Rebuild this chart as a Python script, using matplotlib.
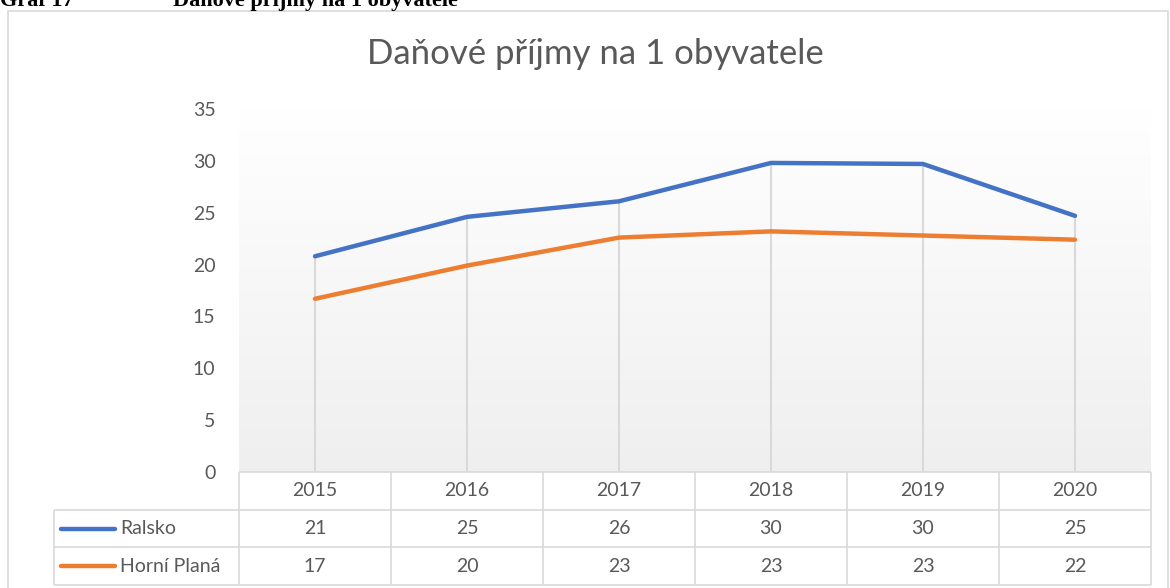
import numpy as np
import matplotlib.pyplot as plt
from matplotlib.colors import LinearSegmentedColormap
from matplotlib.patches import Rectangle

# data
years = ["2015", "2016", "2017", "2018", "2019", "2020"]
ralsko = [20.8, 24.6, 26.1, 29.8, 29.7, 24.7]
horni_plana = [16.7, 19.9, 22.6, 23.2, 22.8, 22.4]
series_names = ["Ralsko", "Horní Planá"]
series_colors = ["#4472C4", "#ED7D31"]

title = "Daňové příjmy na 1 obyvatele"
caption_left = "Graf 17"
caption_right = "Daňové příjmy na 1 obyvatele"

plt.rcParams['font.family'] = ['Lato', 'DejaVu Sans']
TXT = "#595959"
GRID = "#d9d9d9"

W, H = 1170, 588
fig = plt.figure(figsize=(W / 100, H / 100), dpi=100)

def fx(px):
    return px / W

def fy(py):
    return 1 - py / H

# outer chart border
fig.add_artist(Rectangle((fx(8), fy(600)), fx(1168 - 8), (600 - 11) / H,
                         transform=fig.transFigure, fill=False,
                         edgecolor=GRID, lw=1.2))

# caption at the very top (cut off by the page edge, as in the source)
fig.text(0.0, fy(6), caption_left, family='Liberation Serif', weight='bold',
         fontsize=16, va='baseline', ha='left')
fig.text(fx(173), fy(6), caption_right, family='Liberation Serif', weight='bold',
         fontsize=16, va='baseline', ha='left')

fig.text(fx(595), fy(54), title, ha='center', va='center', fontsize=25, color=TXT)

# main plot area
ax = fig.add_axes([fx(239), fy(472), (1151 - 239) / W, (472 - 109) / H])
x = np.arange(len(years))
ax.set_xlim(-0.5, len(years) - 0.5)
ax.set_ylim(0, 35)

cmap = LinearSegmentedColormap.from_list("bg", ["#efefef", "#ffffff"])
ax.imshow(np.linspace(0, 1, 256)[:, None], extent=[-0.5, len(years) - 0.5, 0, 35],
          origin='lower', aspect='auto', cmap=cmap, zorder=0)

ax.vlines(x, 0, np.maximum(ralsko, horni_plana), color=GRID, lw=1.5, zorder=1)
for vals, col in zip([ralsko, horni_plana], series_colors):
    ax.plot(x, vals, color=col, lw=3.2, solid_capstyle='round',
            solid_joinstyle='round', zorder=3)

ax.set_yticks(np.arange(0, 36, 5))
ax.tick_params(axis='y', length=0, pad=17, labelsize=14, labelcolor=TXT)
ax.set_xticks([])
for s in ax.spines.values():
    s.set_visible(False)

# data table below
cell_w = (1151 - 239) / len(years)
left_edge = -0.5 - (239 - 54) / cell_w
tax = fig.add_axes([fx(54), fy(585), (1151 - 54) / W, (585 - 472) / H])
tax.set_xlim(left_edge, len(years) - 0.5)
tax.set_ylim(3, 0)
tax.axis('off')

bounds = np.arange(len(years) + 1) - 0.5
tax.hlines(0, -0.5, len(years) - 0.5, color=GRID, lw=1.2, clip_on=False)
tax.hlines([1, 2, 3], left_edge, len(years) - 0.5, color=GRID, lw=1.2, clip_on=False)
tax.vlines(bounds, 0, 3, color=GRID, lw=1.2, clip_on=False)
tax.vlines(left_edge, 1, 3, color=GRID, lw=1.2, clip_on=False)

for i, yr in enumerate(years):
    tax.text(i, 0.5, yr, ha='center', va='center', fontsize=14, color=TXT)
for r, (name, vals, col) in enumerate(zip(series_names, [ralsko, horni_plana],
                                           series_colors), start=1):
    tax.plot([left_edge + 7 / cell_w, left_edge + 61 / cell_w], [r + 0.5, r + 0.5],
             color=col, lw=3.2, solid_capstyle='round', clip_on=False)
    tax.text(left_edge + 66 / cell_w, r + 0.5, name, ha='left', va='center',
             fontsize=14, color=TXT)
    for i, v in enumerate(vals):
        tax.text(i, r + 0.5, f"{v:.0f}", ha='center', va='center',
                 fontsize=14, color=TXT)

fig.savefig("out.png", dpi=100)
